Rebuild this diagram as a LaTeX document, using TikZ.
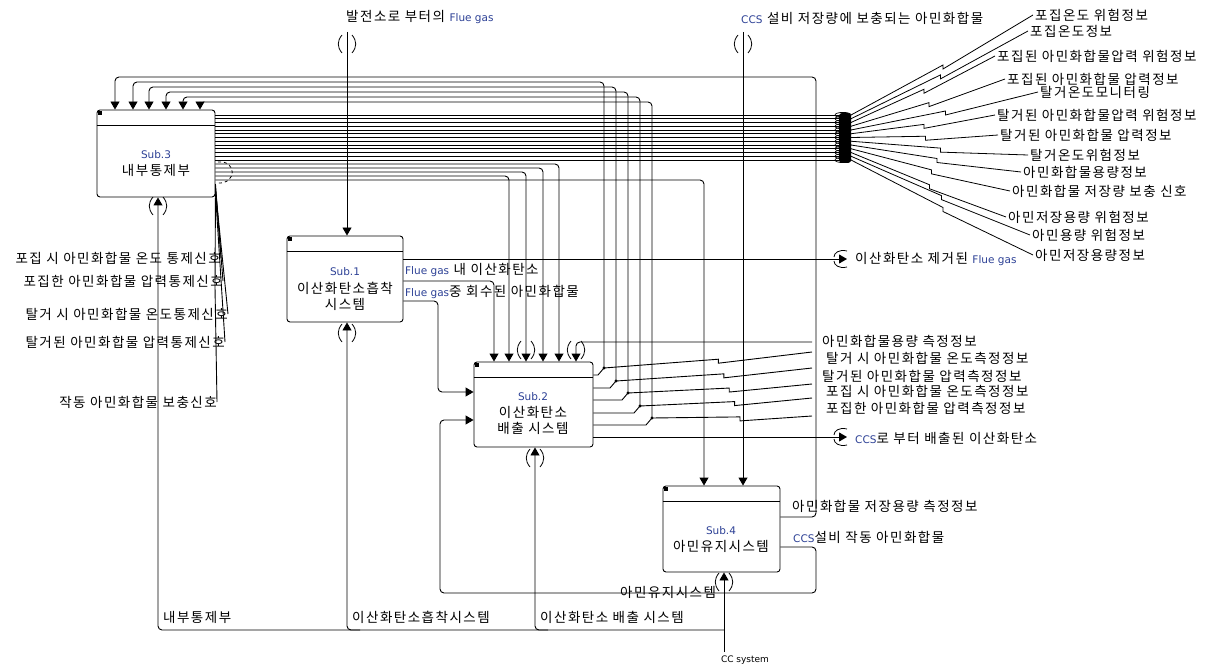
\documentclass[tikz,border=0pt]{standalone}
\usepackage{fontspec}
\newfontfamily\krf[LetterSpace=11]{Noto Sans CJK KR}
\newfontfamily\latf{DejaVu Sans}
\usetikzlibrary{arrows.meta,calc}
\definecolor{latc}{RGB}{45,65,150}
\newcommand{\LatinT}[1]{{\latf\fontsize{10.5}{12}\selectfont\color{latc}#1}}
\tikzset{
  ln/.style={line width=0.9pt,rounded corners=4pt},
  ar/.style={ln,-{Triangle[width=9pt,length=8pt]}},
  lab/.style={font=\krf\fontsize{13.5}{15}\selectfont,inner sep=0pt},
  sbox/.style={draw,line width=0.9pt,rounded corners=3pt,inner sep=0pt},
  tunv/.pic={\draw[line width=0.8pt] (-5,-9) .. controls (-10,-3) and (-10,3) .. (-5,9);
             \draw[line width=0.8pt] (5,-9) .. controls (10,-3) and (10,3) .. (5,9);},
  tunh/.pic={\draw[line width=0.8pt] (4,-8) .. controls (-4,-10) and (-9,-6) .. (-9,-2);
             \draw[line width=0.8pt] (4,8) .. controls (-4,10) and (-9,6) .. (-9,2);}
}
\begin{document}
\begin{tikzpicture}[x=1pt,y=-1pt]
\fill[white] (0,0) rectangle (1213,671);
\useasboundingbox (0,0) rectangle (1213,671);

% ---------- boxes ----------
\node[sbox,minimum width=118pt,minimum height=87pt] (s3) at (156,153.5) {};
\node[sbox,minimum width=116pt,minimum height=86pt] (s1) at (345,279) {};
\node[sbox,minimum width=119pt,minimum height=85pt] (s2) at (533.5,404.5) {};
\node[sbox,minimum width=117pt,minimum height=86pt] (s4) at (721.5,529) {};
\foreach \b in {s3,s1,s2,s4}{
  \draw[line width=0.9pt] ($(\b.north west)+(0,16)$) -- ($(\b.north east)+(0,16)$);
  \fill ($(\b.north west)+(1.5,1.5)$) rectangle ++(3.5,3.5);
}
\node[lab] (s3a) at (156,155) {\LatinT{Sub.3}};
\node[lab] (s3b) at (156,170) {내부통제부};
\node[lab] (s1a) at (345,272) {\LatinT{Sub.1}};
\node[lab] (s1b) at (345,288) {이산화탄소흡착};
\node[lab] (s1c) at (345,304) {시스템};
\node[lab] (s2a) at (533,397) {\LatinT{Sub.2}};
\node[lab] (s2b) at (533,412) {이산화탄소};
\node[lab] (s2c) at (533,428) {배출 시스템};
\node[lab] (s4a) at (721,531) {\LatinT{Sub.4}};
\node[lab] (s4b) at (721,546) {아민유지시스템};

% ---------- top inputs ----------
\node[lab,anchor=west] (tin1) at (346,17) {발전소로 부터의 \LatinT{Flue gas}};
\node[lab,anchor=west] (tin2) at (741,18) {\LatinT{CCS} 설비 저장량에 보충되는 아민화합물};
\coordinate (c1) at (347,32);
\coordinate (c2) at (743,32);
\draw[ar] (c1) -- (c1 |- s1.north);
\draw[ar] (c2) -- (c2 |- s4.north);
\pic at (347,44) {tunv};
\pic at (743,44) {tunv};

% ---------- Sub.4 storage info -> Sub.3 ----------
\node[lab,anchor=west] (o41) at (792,506) {아민화합물 저장용량 측정정보};
\draw[ar] (s4.east |- 0,517) -- (816,517) -- (816,77) -- (115,77) -- (115,0 |- s3.north);

% ---------- Sub.2 feedback -> Sub.3 and to right labels ----------
\foreach \k/\xs/\yt/\xj/\ys/\ye in {1/133/82/604/375/352,2/149/87/616/388/368,3/166/92/628/400/384,4/183/97/640/413/398,5/200/102/652/425/416}{
  \coordinate (j\k) at (\xj,\ys-7);
  \coordinate (e\k) at (812,\ye);
  \draw[line width=0.9pt] (s2.east |- 0,\ys) -- (\xj-6,\ys) -- (j\k);
  \draw[ar] (j\k) -- (\xj,\yt) -- (\xs,\yt) -- (\xs,0 |- s3.north);
  \fill (j\k) circle (1.7);
  \draw[line width=0.9pt] (j\k) -- ($(j\k)!0.55!(e\k)$) -- ++(0,4) -- (e\k);
}
\node[lab,anchor=west] (m1) at (822,341) {아민화합물용량 측정정보};
\node[lab,anchor=west] (m2) at (826,358) {탈거 시 아민화합물 온도측정정보};
\node[lab,anchor=west] (m3) at (822,376) {탈거된 아민화합물 압력측정정보};
\node[lab,anchor=west] (m4) at (826,391) {포집 시 아민화합물 온도측정정보};
\node[lab,anchor=west] (m5) at (826,408) {포집한 아민화합물 압력측정정보};
\draw[ar] (812,342) -- (576,342) -- (576,0 |- s2.north);
\pic at (576,350) {tunv};

% ---------- Sub.2 output ----------
\draw[ar] (s2.east |- 0,437) -- (847,437);
\pic at (843,437) {tunh};
\node[lab,anchor=west] (o2) at (855,438) {\LatinT{CCS}로 부터 배출된 이산화탄소};

% ---------- Sub.1 outputs ----------
\draw[ar] (s1.east |- 0,259) -- (847,259);
\pic at (843,259) {tunh};
\node[lab,anchor=west] (o1) at (855,259) {이산화탄소 제거된 \LatinT{Flue gas}};
\node[lab,anchor=west] (o1a) at (405,270) {\LatinT{Flue gas} 내 이산화탄소};
\node[lab,anchor=west] (o1b) at (405,292) {\LatinT{Flue gas}중 회수된 아민화합물};
\draw[ar] (s1.east |- 0,281) -- (494,281) -- (494,0 |- s2.north);
\draw[ar] (s1.east |- 0,301) -- (438,301) -- (438,392) -- (s2.west |- 0,392);

% ---------- Sub.4 loop ----------
\node[lab,anchor=west] (o42) at (793,537) {\LatinT{CCS}설비 작동 아민화합물};
\draw[ar] (s4.east |- 0,547) -- (816,547) -- (816,593) -- (440,593) -- (440,420) -- (s2.west |- 0,420);
\node[lab,anchor=west] (b4) at (620,592) {아민유지시스템};

% ---------- Sub.3 -> Sub.2 / Sub.4 ----------
\draw[ar] (s3.east |- 0,164) -- (559,164) -- (559,0 |- s2.north);
\draw[ar] (s3.east |- 0,168) -- (543,168) -- (543,0 |- s2.north);
\draw[ar] (s3.east |- 0,172) -- (526,172) -- (526,0 |- s2.north);
\draw[ar] (s3.east |- 0,176) -- (509,176) -- (509,0 |- s2.north);
\draw[ar] (s3.east |- 0,180) -- (704,180) -- (704,0 |- s4.north);
\pic at (526,350) {tunv};
\draw[line width=0.8pt,dashed] (218,162) .. controls (237,160) and (237,184) .. (218,183);

% ---------- Sub.3 bundle -> right labels ----------
\foreach \i/\xl/\yl/\t in {
 0/1035/15/포집온도 위험정보,
 1/1030/31/포집온도정보,
 2/997/56/포집된 아민화합물압력 위험정보,
 3/1007/79/포집된 아민화합물 압력정보,
 4/1040/92/탈거온도모니터링,
 5/997/115/탈거된 아민화합물압력 위험정보,
 6/1000/135/탈거된 아민화합물 압력정보,
 7/1030/155/탈거온도위험정보,
 8/1023/172/아민화합물용량정보,
 9/1012/191/아민화합물 저장량 보충 신호,
 10/1008/217/아민저장용량 위험정보,
 11/1032/235/아민용량 위험정보,
 12/1035/255/아민저장용량정보}{
  \pgfmathsetmacro\yy{115+3.75*\i}
  \node[lab,anchor=west] (r\i) at (\xl,\yl) {\t};
  \coordinate (b\i) at (851,\yy);
  \draw[line width=0.9pt] (s3.east |- 0,\yy) -- (b\i);
  \draw[line width=0.8pt] (b\i) -- ($(b\i)!0.5!(r\i.west)$) -- ++(0,4) -- ($(r\i.west)+(-2,0)$);
  \draw[line width=0.7pt] (843,\yy) ellipse (8 and 2.6);
}
\fill[rounded corners=3pt] (839,113) rectangle (851,163);

% ---------- Sub.3 -> left labels ----------
\node[lab,anchor=east] (l1) at (221,258) {포집 시 아민화합물 온도 통제신호};
\node[lab,anchor=east] (l2) at (223,281) {포집한 아민화합물 압력통제신호};
\node[lab,anchor=east] (l3) at (228,314) {탈거 시 아민화합물 온도통제신호};
\node[lab,anchor=east] (l4) at (225,342) {탈거된 아민화합물 압력통제신호};
\node[lab,anchor=east] (l5) at (217,402) {작동 아민화합물 보충신호};
\draw[line width=0.9pt] (s3.east |- 0,184) -- (l1.east);
\draw[line width=0.9pt] (s3.east |- 0,187) -- (l2.east);
\draw[line width=0.9pt] (s3.east |- 0,190) -- (l3.east);
\draw[line width=0.9pt] (s3.east |- 0,193) -- (l4.east);
\draw[line width=0.9pt] (s3.south east) -- (215,287) -- (l5.east);

% ---------- mechanisms ----------
\coordinate (cc) at (724,652);
\node[lab,anchor=north] (ccl) at (745,656) {{\latf\fontsize{9}{10}\selectfont CC system}};
\draw[ar] (cc) -- (cc |- s4.south);
\pic at (724,582) {tunv};
\draw[ar] (724,630) -- (158,630) -- (158,0 |- s3.south);
\draw[ar] (360,630) -- (347,630) -- (347,0 |- s1.south);
\draw[ar] (548,630) -- (535,630) -- (535,0 |- s2.south);
\pic at (158,206) {tunv};
\pic at (347,333) {tunv};
\pic at (535,458) {tunv};
\node[lab,anchor=west] (bm3) at (163,617) {내부통제부};
\node[lab,anchor=west] (bm1) at (352,617) {이산화탄소흡착시스템};
\node[lab,anchor=west] (bm2) at (540,617) {이산화탄소 배출 시스템};
\end{tikzpicture}
\end{document}
